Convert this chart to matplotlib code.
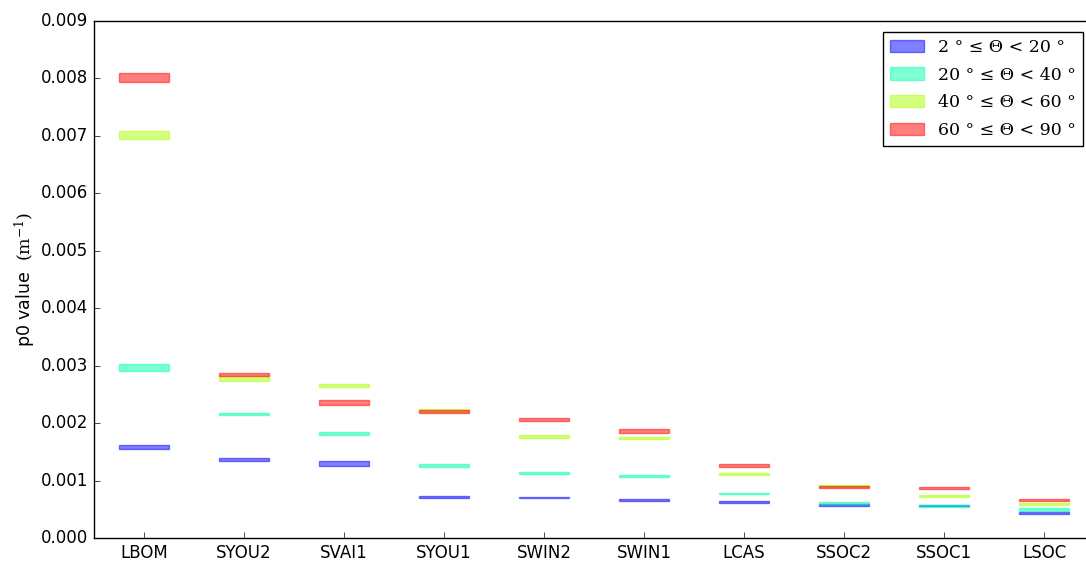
import numpy as np
import matplotlib
matplotlib.use('Agg')
import matplotlib.pyplot as plt
import matplotlib.patches as mpatches

plt.style.use('classic')
plt.rcParams['mathtext.fontset'] = 'dejavuserif'

sites = ['LBOM', 'SYOU2', 'SVAI1', 'SYOU1', 'SWIN2', 'SWIN1', 'LCAS', 'SSOC2', 'SSOC1', 'LSOC']

# p0 ranges (low, high) per incidence-angle class
p0_low_2_20 = [0.00155, 0.00134, 0.00125, 0.00070, 0.00069, 0.00065, 0.00061, 0.00056, 0.00055, 0.00042]
p0_high_2_20 = [0.00162, 0.00139, 0.00134, 0.00073, 0.00072, 0.00068, 0.00065, 0.00059, 0.00058, 0.00045]

p0_low_20_40 = [0.00291, 0.00214, 0.00179, 0.00124, 0.00112, 0.00107, 0.00076, 0.00059, 0.00054, 0.00047]
p0_high_20_40 = [0.00303, 0.00218, 0.00184, 0.00128, 0.00115, 0.00110, 0.00079, 0.00063, 0.00057, 0.00052]

p0_low_40_60 = [0.00695, 0.00274, 0.00263, 0.00219, 0.00174, 0.00172, 0.00110, 0.00088, 0.00071, 0.00058]
p0_high_40_60 = [0.00709, 0.00282, 0.00268, 0.00224, 0.00179, 0.00176, 0.00114, 0.00092, 0.00074, 0.00061]

p0_low_60_90 = [0.00793, 0.00282, 0.00231, 0.00217, 0.00204, 0.00183, 0.00124, 0.00087, 0.00085, 0.00064]
p0_high_60_90 = [0.00809, 0.00287, 0.00241, 0.00222, 0.00209, 0.00190, 0.00128, 0.00090, 0.00089, 0.00068]

classes = [
    (p0_low_2_20, p0_high_2_20, '#0000ff', '2 ° ≤ Θ < 20 °'),
    (p0_low_20_40, p0_high_20_40, '#00ffaa', '20 ° ≤ Θ < 40 °'),
    (p0_low_40_60, p0_high_40_60, '#aaff00', '40 ° ≤ Θ < 60 °'),
    (p0_low_60_90, p0_high_60_90, '#ff0000', '60 ° ≤ Θ < 90 °'),
]

fig = plt.figure(figsize=(10.86, 5.61), dpi=100)
fig.patch.set_facecolor('white')
ax = fig.add_axes([94 / 1086., 23 / 561., 1000 / 1086., 517 / 561.])

x = np.arange(len(sites))
handles = []
for low, high, col, lab in classes:
    low = np.array(low)
    high = np.array(high)
    ax.bar(x, high - low, bottom=low, width=0.5, align='center',
           color=col, edgecolor=col, alpha=0.5, linewidth=1)
    handles.append(mpatches.Patch(facecolor=col, edgecolor=col, alpha=0.5, label=lab))

ax.set_xlim(-0.5, 9.5)
ax.set_ylim(0, 0.009)
ax.set_xticks(x)
ax.set_xticklabels(sites)
ax.set_yticks(np.arange(0, 0.0091, 0.001))
ax.set_yticklabels(['%.3f' % v for v in np.arange(0, 0.0091, 0.001)])
ax.set_ylabel(r'p0 value $\ (\mathrm{m}^{-1})$', labelpad=2, fontsize=12.5)
ax.tick_params(axis='x', which='both', top=False)
ax.tick_params(axis='y', which='both', right=False)

ax.legend(handles=handles, loc='upper right', labelspacing=0.62,
          borderaxespad=0.63, prop={'family': 'DejaVu Serif', 'size': 12.5})

fig.savefig('out.png', dpi=100, facecolor='white')
